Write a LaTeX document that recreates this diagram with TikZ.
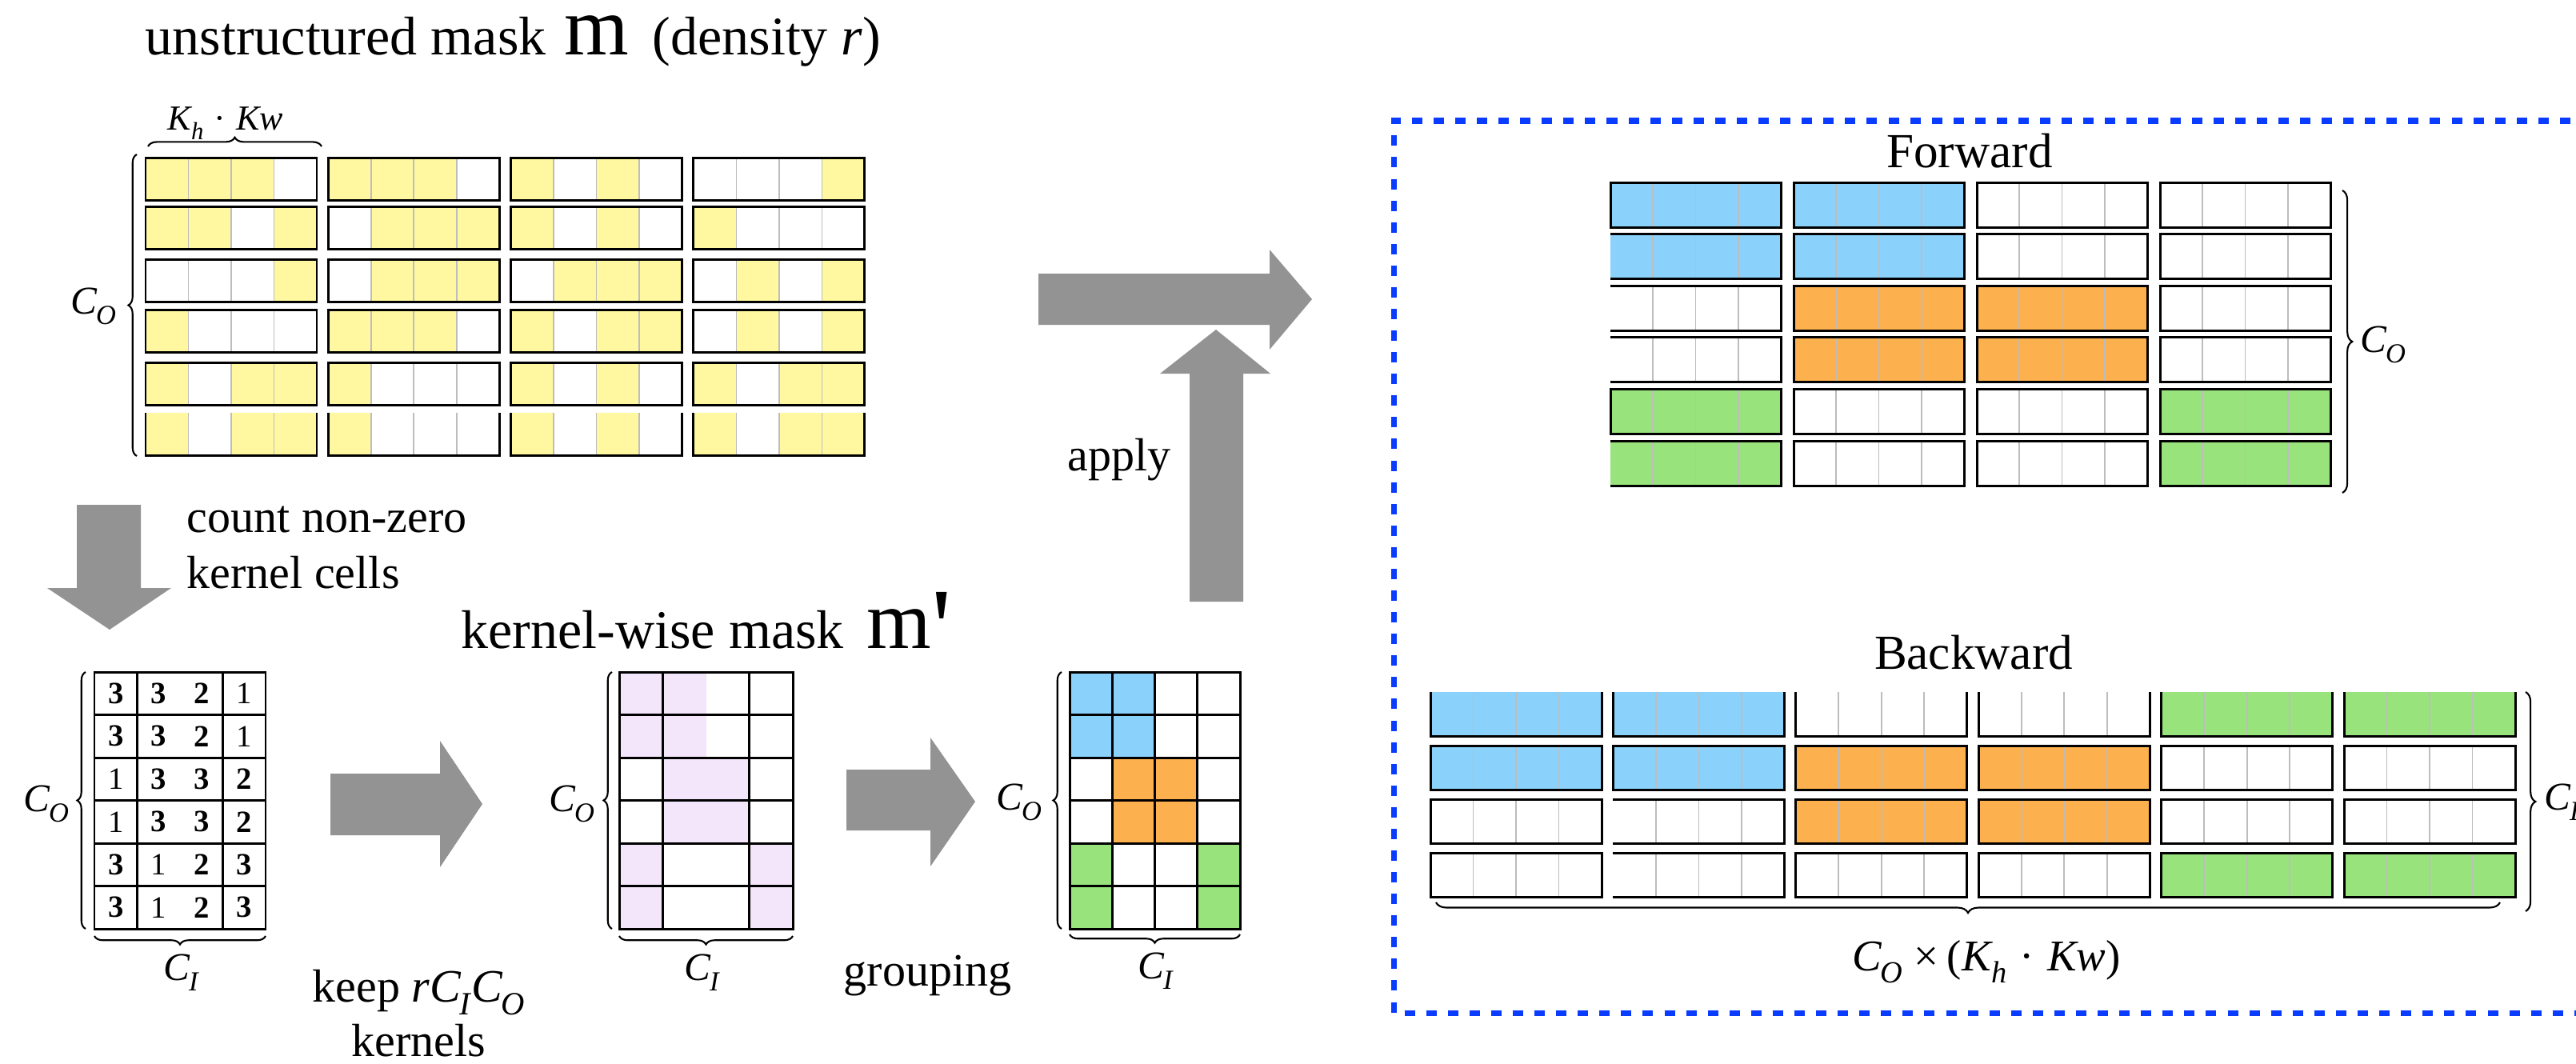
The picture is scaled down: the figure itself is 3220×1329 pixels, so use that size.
\documentclass[tikz,border=0pt]{standalone}
\usepackage{fontspec}
\setmainfont{Liberation Serif}
\usetikzlibrary{decorations.pathreplacing}
\definecolor{ygold}{HTML}{FFF8A0}
\definecolor{lav}{HTML}{F3E6FA}
\definecolor{skyb}{HTML}{8AD2FB}
\definecolor{orng}{HTML}{FCB04E}
\definecolor{lgrn}{HTML}{98E37C}
\definecolor{agray}{HTML}{939393}
\definecolor{dgray}{HTML}{BDBDBD}
\definecolor{dblue}{HTML}{0A3CFF}
\newcommand\subi[1]{\kern-0.04em\raisebox{-0.28em}{\scalebox{0.7}{\textit{#1}}}}
\newcommand\CO{\textit{C}\subi{O}}
\newcommand\CI{\textit{C}\subi{I}}
\newcommand\Kh{\textit{K}\subi{h}}
\newcommand\maskm[1]{{\fontsize{#1}{#1}\selectfont m}}
\tikzset{
  divl/.style={draw=dgray,line width=0.5pt},
  blk/.style={draw=black,line width=0.85pt},
  tab/.style={draw=black,line width=0.85pt},
  garrow/.style={fill=agray,draw=none},
  brc/.style={decorate,decoration={brace,amplitude=#1},line width=0.6pt},
  brc/.default=3pt,
  ttl/.style={inner sep=0pt,font=\fontsize{19.35}{23}\selectfont},
  lbl/.style={inner sep=0pt,font=\fontsize{16.5}{19.9}\selectfont},
  hdr/.style={inner sep=0pt,font=\fontsize{17.4}{20}\selectfont},
  sym/.style={inner sep=0pt,font=\fontsize{14}{16}\selectfont},
  num/.style={inner sep=0pt,font=\fontsize{11}{12}\selectfont},
}
\newcommand\kframe[5]{%
  \foreach \k in {1,2,3} \draw[divl] ({#1+\k*#3/4},#2) -- ++(0,#4);
  \ifcase#5
    \draw[blk] (#1,#2) rectangle ++(#3,#4);
  \or
    \draw[blk] (#1,#2) -- ++(#3,0) -- ++(0,#4) -- ++(-#3,0);
  \or
    \draw[blk] (#1,#2) -- ++(0,#4) -- ++(#3,0) -- ++(0,-#4);
  \fi}
\newcommand\ublock[7]{%
  \foreach \k/\f in {0/#3,1/#4,2/#5,3/#6}{\ifnum\f=1 \fill[ygold] ({#1+\k*53.5},#2) rectangle ++(53.5,53);\fi}
  \kframe{#1}{#2}{214}{53}{#7}}
\newcommand\fblock[6]{%
  \fill[#5] (#1,#2) rectangle ++(#3,#4);
  \kframe{#1}{#2}{#3}{#4}{#6}}
\begin{document}
\begin{tikzpicture}[x=0.01cm,y=-0.01cm]
\useasboundingbox (0,0) rectangle (3220,1329);
\fill[white] (0,0) rectangle (3220,1329);

% ---------- title 1
\node[ttl,anchor=base west] (t1) at (181,68) {unstructured mask};
\node[inner sep=0pt,anchor=base west] (t1m) at (705,68) {\maskm{29.5}};
\node[ttl,anchor=base west] (t1d) at (815,68) {(density \textit{r})};

% ---------- unstructured mask grid
\ublock{182}{197}{1}{1}{1}{0}{0}\ublock{410.3}{197}{1}{1}{1}{0}{0}\ublock{638.6}{197}{1}{0}{1}{0}{0}\ublock{866.9}{197}{0}{0}{0}{1}{0}
\ublock{182}{258}{1}{1}{0}{1}{0}\ublock{410.3}{258}{0}{1}{1}{1}{0}\ublock{638.6}{258}{1}{0}{1}{0}{0}\ublock{866.9}{258}{1}{0}{0}{0}{0}
\ublock{182}{324}{0}{0}{0}{1}{0}\ublock{410.3}{324}{0}{1}{1}{1}{0}\ublock{638.6}{324}{0}{1}{1}{1}{0}\ublock{866.9}{324}{0}{1}{0}{1}{0}
\ublock{182}{387}{1}{0}{0}{0}{0}\ublock{410.3}{387}{1}{1}{1}{0}{0}\ublock{638.6}{387}{1}{0}{1}{1}{0}\ublock{866.9}{387}{0}{1}{0}{1}{0}
\ublock{182}{453}{1}{0}{1}{1}{0}\ublock{410.3}{453}{1}{0}{0}{0}{0}\ublock{638.6}{453}{1}{0}{1}{0}{0}\ublock{866.9}{453}{1}{0}{1}{1}{0}
\ublock{182}{516}{1}{0}{1}{1}{2}\ublock{410.3}{516}{1}{0}{0}{0}{2}\ublock{638.6}{516}{1}{0}{1}{0}{2}\ublock{866.9}{516}{1}{0}{1}{1}{2}

\draw[brc=3.2pt] (185,183) -- (402,183);
\node[sym,anchor=base west,font=\fontsize{12.5}{14}\selectfont] (kh) at (209,162) {\Kh\hspace{0.3em}·\hspace{0.3em}\textit{Kw}};
\draw[brc=3pt] (171,570) -- (171,193);
\node[sym,anchor=base west] (uco) at (88,392) {\CO};

% ---------- down arrow + text
\fill[garrow] (96,631) -- (176,631) -- (176,735) -- (214,735) -- (137,787) -- (59,735) -- (96,735) -- cycle;
\node[lbl,anchor=base west] (cnt1) at (233,665) {count non-zero};
\node[lbl,anchor=base west] (cnt2) at (233,735) {kernel cells};

% ---------- count table
\draw[tab] (118,840) rectangle (332,1161);
\foreach \r in {1,...,5} \draw[tab] (118,{840+53.5*\r}) -- (332,{840+53.5*\r});
\foreach \xx in {171.5,278.5} \draw[tab] (\xx,840) -- (\xx,1161);
\foreach \r/\va/\vb/\vc/\vd in {1/3/3/2/1,2/3/3/2/1,3/1/3/3/2,4/1/3/3/2,5/3/1/2/3,6/3/1/2/3}{
  \foreach \cc/\v in {1/\va,2/\vb,3/\vc,4/\vd}{
    \node[num] (n\r\cc) at ({118+53.5*(\cc-0.5)},{840+53.5*(\r-0.5)}) {\ifnum\v>1 \bfseries\fi\v};
  }}
\draw[brc=3pt] (107,1161) -- (107,840);
\draw[brc=3pt] (332,1170) -- (118,1170);
\node[sym,anchor=base west] (cco) at (29,1014) {\CO};
\node[sym,anchor=base west] (cci) at (204,1225) {\CI};

% ---------- arrow keep
\fill[garrow] (413,967) -- (550,967) -- (550,926) -- (603,1005) -- (550,1084) -- (550,1044) -- (413,1044) -- cycle;
\node[lbl,anchor=base] (keep1) at (523,1252) {keep \textit{r}\CI\CO};
\node[lbl,anchor=base] (keep2) at (523,1320) {kernels};

% ---------- kernel-wise mask
\node[ttl,anchor=base west] (kw) at (576,810) {kernel-wise mask};
\node[inner sep=0pt,anchor=base west] (kwm) at (1083,810) {\maskm{29.5}};
\node[inner sep=0pt,anchor=base west,font=\fontsize{40}{40}\selectfont] (kwp) at (1164,832) {\textquotesingle};
\fill[lav] (774,840) rectangle (882.5,947);
\fill[lav] (828.25,947) rectangle (936.75,1054);
\fill[lav] (774,1054) rectangle (828.25,1161);
\fill[lav] (936.75,1054) rectangle (991,1161);
\draw[tab] (774,840) rectangle (991,1161);
\foreach \r in {1,...,5} \draw[tab] (774,{840+53.5*\r}) -- (991,{840+53.5*\r});
\foreach \xx in {828.25,936.75} \draw[tab] (\xx,840) -- (\xx,1161);
\draw[brc=3pt] (765,1161) -- (765,840);
\draw[brc=3pt] (991,1170) -- (774,1170);
\node[sym,anchor=base west] (kco) at (686,1014) {\CO};
\node[sym,anchor=base west] (kci) at (855,1225) {\CI};

% ---------- arrow grouping
\fill[garrow] (1058,962) -- (1163,962) -- (1163,922) -- (1219,1002) -- (1163,1083) -- (1163,1038) -- (1058,1038) -- cycle;
\node[lbl,anchor=base west] (grp) at (1054,1232) {grouping};

% ---------- grouped table
\fill[skyb] (1337,840) rectangle (1443.5,947);
\fill[orng] (1390.25,947) rectangle (1496.75,1054);
\fill[lgrn] (1337,1054) rectangle (1390.25,1161);
\fill[lgrn] (1496.75,1054) rectangle (1550,1161);
\draw[tab] (1337,840) rectangle (1550,1161);
\foreach \r in {1,...,5} \draw[tab] (1337,{840+53.5*\r}) -- (1550,{840+53.5*\r});
\foreach \xx in {1390.25,1443.5,1496.75} \draw[tab] (\xx,840) -- (\xx,1161);
\draw[brc=3pt] (1327,1161) -- (1327,840);
\draw[brc=3pt] (1550,1168) -- (1337,1168);
\node[sym,anchor=base west] (gco) at (1245,1012) {\CO};
\node[sym,anchor=base west] (gci) at (1422,1223) {\CI};

% ---------- apply arrows
\fill[garrow] (1487,752) -- (1487,467) -- (1450,467) -- (1520,412) -- (1588,467) -- (1554,467) -- (1554,752) -- cycle;
\fill[garrow] (1298,342) -- (1587,342) -- (1587,312) -- (1640,374) -- (1587,437) -- (1587,406) -- (1298,406) -- cycle;
\node[lbl,anchor=base west] (apply) at (1334,588) {apply};

% ---------- dashed box
\draw[dblue,line width=2pt,dash pattern=on 3.7pt off 4pt] (3240,151) -- (1742,151) -- (1742,1266) -- (3240,1266);

% ---------- forward
\node[hdr,anchor=base] (fwd) at (2462,209) {Forward};
\foreach \r/\ca/\cb/\cc/\cd/\ma in {
 0/skyb/skyb/white/white/0, 1/skyb/skyb/white/white/1, 2/white/orng/orng/white/1,
 3/white/orng/orng/white/1, 4/lgrn/white/white/lgrn/0, 5/lgrn/white/white/lgrn/1}{
  \fblock{2013}{228+64.6*\r}{213}{56}{\ca}{\ma}
  \fblock{2242}{228+64.6*\r}{213}{56}{\cb}{0}
  \fblock{2471}{228+64.6*\r}{213}{56}{\cc}{0}
  \fblock{2700}{228+64.6*\r}{213}{56}{\cd}{0}
}
\draw[brc=3.5pt] (2928,238) -- (2928,616);
\node[sym,anchor=base west] (fco) at (2950,440) {\CO};

% ---------- backward
\node[hdr,anchor=base] (bwd) at (2467,836) {Backward};
\foreach \y/\ca/\cb/\cc/\cd/\ce/\cf/\ma/\mb/\mr in {
 865/skyb/skyb/white/white/lgrn/lgrn/2/2/2,
 932/skyb/skyb/orng/orng/white/white/0/0/0,
 999/white/white/orng/orng/white/white/0/1/0,
 1066/white/white/white/white/lgrn/lgrn/0/1/0}{
  \fblock{1788}{\y}{214}{55}{\ca}{\ma}
  \fblock{2016.4}{\y}{214}{55}{\cb}{\mb}
  \fblock{2244.8}{\y}{214}{55}{\cc}{\mr}
  \fblock{2473.2}{\y}{214}{55}{\cd}{\mr}
  \fblock{2701.6}{\y}{214}{55}{\ce}{\mr}
  \fblock{2930}{\y}{214}{55}{\cf}{\mr}
}
\draw[brc=3.5pt] (3157,865) -- (3157,1139);
\node[sym,anchor=base west] (bci) at (3180,1012) {\CI};
\draw[brc=3.7pt] (3125,1128) -- (1795,1128);
\node[sym,anchor=base west,font=\fontsize{15.6}{18}\selectfont] (blab) at (2315,1213) {\CO\hspace{0.25em}×\hspace{0.2em}(\Kh\hspace{0.3em}·\hspace{0.3em}\textit{Kw})};
\end{tikzpicture}
\end{document}
